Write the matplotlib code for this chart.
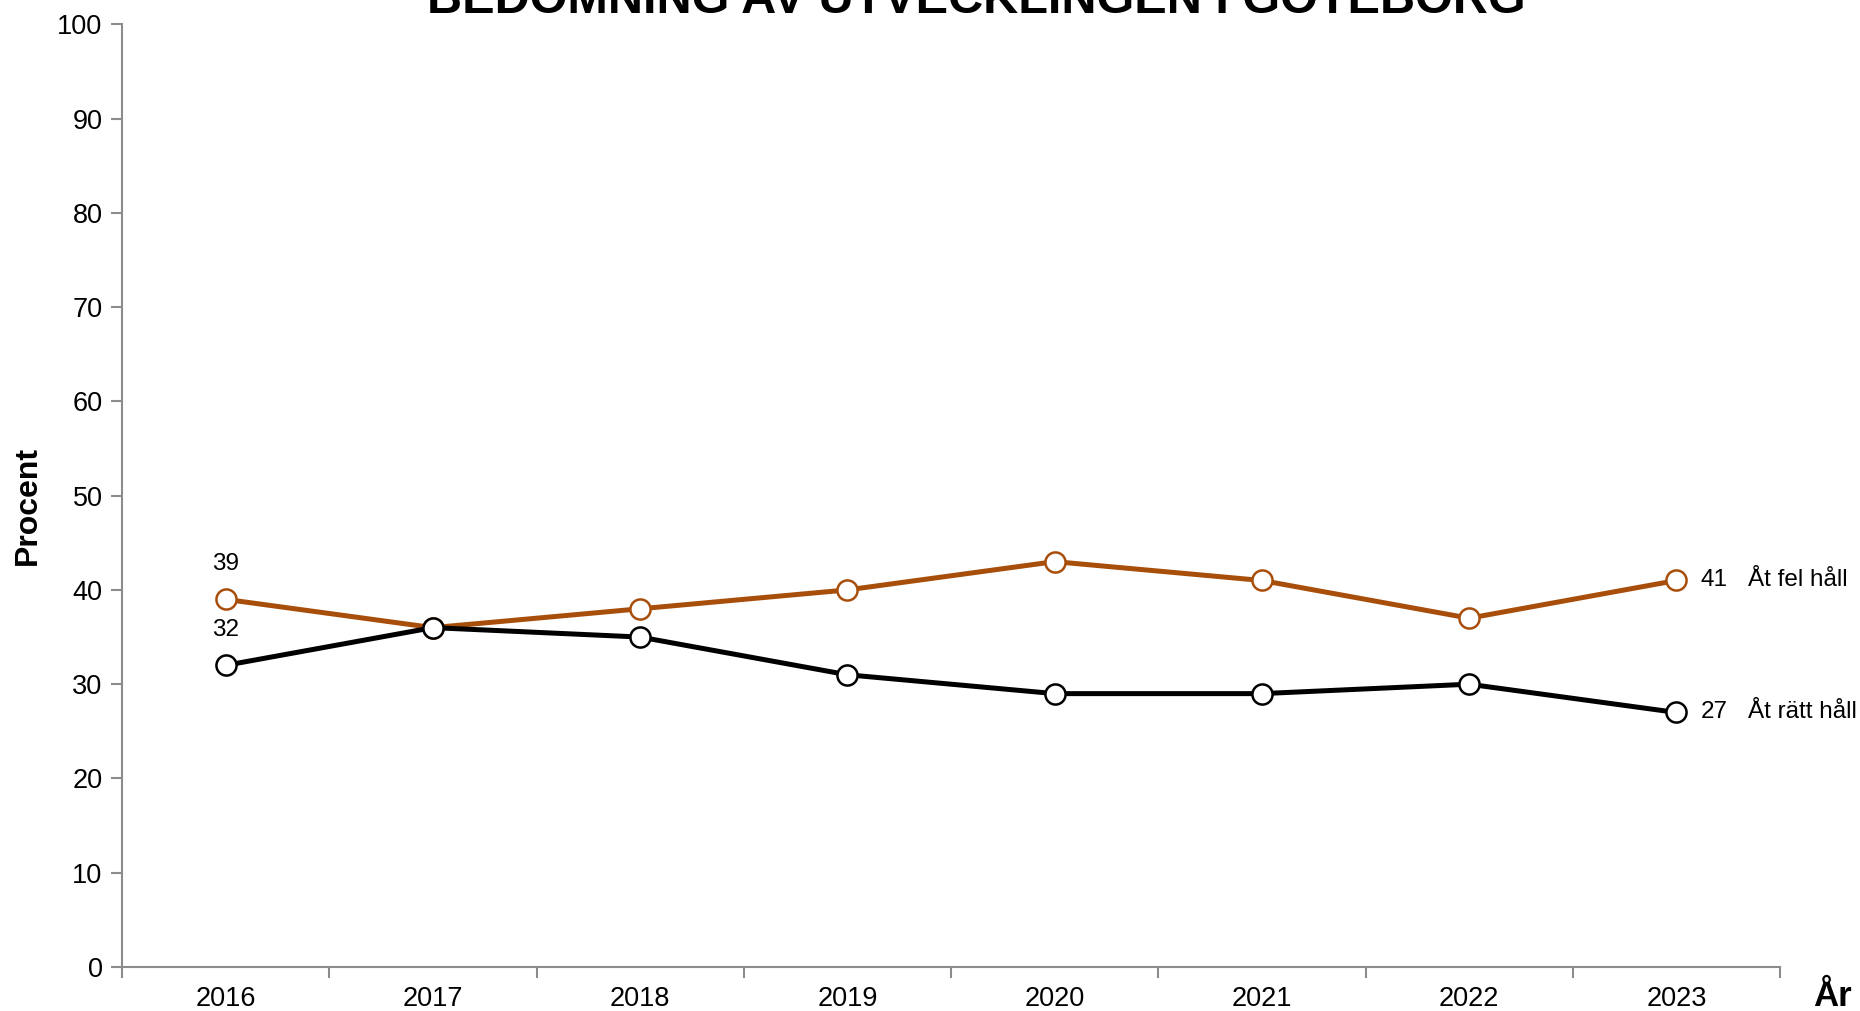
import numpy as np
import matplotlib.pyplot as plt
from matplotlib.ticker import FixedLocator

years = ["2016", "2017", "2018", "2019", "2020", "2021", "2022", "2023"]
fel = [39, 36, 38, 40, 43, 41, 37, 41]
ratt = [32, 36, 35, 31, 29, 29, 30, 27]
series = [("Åt fel håll", fel, "#A84E0B"), ("Åt rätt håll", ratt, "#000000")]

plt.rcParams['font.family'] = ['Liberation Sans', 'DejaVu Sans']

fig = plt.figure(figsize=(18.6, 10.11), dpi=100)
ax = fig.add_axes([0.0656, 0.0435, 0.8914, 0.9325])

x = np.arange(len(years))
for name, vals, col in series:
    ax.plot(x, vals, color=col, lw=3.6, marker="o", ms=14.5, mfc="white",
            mec=col, mew=1.8, zorder=3)
    ax.annotate(str(vals[0]), (x[0], vals[0]), xytext=(0, 35),
                textcoords="offset pixels", ha="center", va="center", fontsize=17.5)
    ax.annotate(str(vals[-1]), (x[-1], vals[-1]), xytext=(24, 0),
                textcoords="offset pixels", ha="left", va="center", fontsize=17.5)
    ax.annotate(name, (x[-1], vals[-1]), xytext=(72, 0),
                textcoords="offset pixels", ha="left", va="center", fontsize=17.5)

ax.set_xlim(-0.5, len(years) - 0.5)
ax.set_ylim(0, 100)
ax.set_yticks(range(0, 101, 10))
ax.set_xticks(x)
ax.set_xticklabels(years)
ax.xaxis.set_minor_locator(FixedLocator(np.arange(-0.5, len(years), 1.0)))
ax.tick_params(axis="x", which="major", length=0, pad=14, labelsize=19.5)
ax.tick_params(axis="x", which="minor", length=8, width=1.5, color="#8c8c8c")
ax.tick_params(axis="y", length=8, width=1.5, color="#8c8c8c", labelsize=19.5, pad=6)

for s in ["top", "right"]:
    ax.spines[s].set_visible(False)
for s in ["left", "bottom"]:
    ax.spines[s].set_color("#8c8c8c")
    ax.spines[s].set_linewidth(1.5)

fig.text(28 / 1860, 0.5, "Procent", rotation=90, ha="center", va="center",
         fontsize=23, fontweight="bold")
fig.text(1832 / 1860, 1 - 997 / 1011, "År", ha="center", va="center",
         fontsize=25, fontweight="bold")
fig.text(976 / 1860, 1 - 13 / 1011, "BEDÖMNING AV UTVECKLINGEN I GÖTEBORG",
         ha="center", va="baseline", fontsize=35, fontweight="bold",
         family=["Liberation Sans Narrow", "Liberation Sans"])

fig.savefig("out.png", dpi=100)
